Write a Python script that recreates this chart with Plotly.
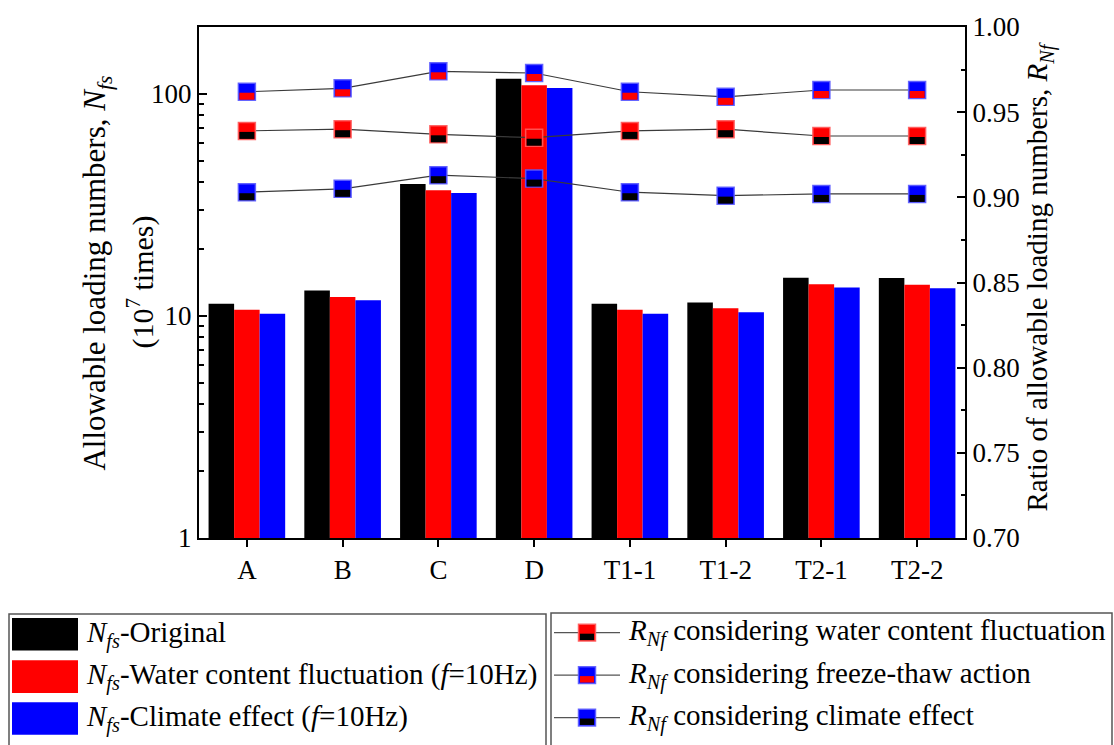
import math
import plotly.graph_objects as go

# ---- data -------------------------------------------------------------
categories = ["A", "B", "C", "D", "T1-1", "T1-2", "T2-1", "T2-2"]

# allowable loading numbers N_fs (10^7 times)
nfs_original = [11.34, 13.01, 39.3, 116.9, 11.34, 11.5, 14.86, 14.82]
nfs_water = [10.67, 12.18, 36.8, 109.3, 10.67, 10.82, 13.87, 13.83]
nfs_climate = [10.24, 11.78, 35.8, 106.3, 10.24, 10.38, 13.42, 13.34]

# ratio of allowable loading numbers R_Nf
r_water = [0.939, 0.940, 0.937, 0.935, 0.939, 0.940, 0.936, 0.936]
r_freeze = [0.962, 0.964, 0.974, 0.973, 0.962, 0.959, 0.963, 0.963]
r_climate = [0.903, 0.905, 0.913, 0.911, 0.903, 0.901, 0.902, 0.902]

bar_names = [
    "<i>N</i><sub><i>fs</i></sub>-Original",
    "<i>N</i><sub><i>fs</i></sub>-Water content fluctuation (<i>f</i>=10Hz)",
    "<i>N</i><sub><i>fs</i></sub>-Climate effect (<i>f</i>=10Hz)",
]
ratio_names = [
    "<i>R</i><sub><i>Nf</i></sub> considering water content fluctuation",
    "<i>R</i><sub><i>Nf</i></sub> considering freeze-thaw action",
    "<i>R</i><sub><i>Nf</i></sub> considering climate effect",
]

# ---- style ------------------------------------------------------------
FONT = "'Liberation Serif', 'Times New Roman', Times, serif"
BLACK, RED, BLUE = "#000000", "#FF0000", "#0000FF"
EDGE = {RED: "rgba(255,90,90,0.9)", BLUE: "rgba(90,90,255,0.9)"}
W, H = 1114, 745
ML, MR, MT, MB = 199, 149, 20, 207
PW, PH = W - ML - MR, H - MT - MB


def px(xp):
    return (xp - ML) / PW


def py(yp):
    return (H - MB - yp) / PH


xs = list(range(len(categories)))

fig = go.Figure()

for vals, col, name in zip([nfs_original, nfs_water, nfs_climate],
                           [BLACK, RED, BLUE], bar_names):
    fig.add_trace(go.Bar(x=xs, y=vals, name=name, marker_color=col,
                         marker_line_width=0, showlegend=False))

# ratio series: (values, top colour, bottom colour)
ratio_series = [
    (r_water, RED, BLACK),
    (r_freeze, BLUE, RED),
    (r_climate, BLUE, BLACK),
]

shapes = []
for (vals, top, bottom), name in zip(ratio_series, ratio_names):
    fig.add_trace(go.Scatter(
        x=xs, y=vals, yaxis="y2", mode="lines+markers", name=name,
        line=dict(color="#3a3a3a", width=1.2),
        marker=dict(symbol="square", size=17, color=top,
                    line=dict(color=EDGE[top], width=1.5)),
        showlegend=False,
    ))
    # lower half of each two-tone square marker
    for xv, yv in zip(xs, vals):
        shapes.append(dict(
            type="rect", xref="x", yref="y2",
            xsizemode="pixel", ysizemode="pixel",
            xanchor=xv, yanchor=yv,
            x0=-7.5, x1=7.5, y0=-1, y1=-8,
            fillcolor=bottom, line=dict(width=0), layer="above",
        ))

# ---- legend boxes ------------------------------------------------------
BOX = dict(color="#555555", width=1.5)
shapes.append(dict(type="rect", xref="paper", yref="paper",
                   x0=px(9), x1=px(546), y0=py(615), y1=py(760),
                   line=BOX, fillcolor="rgba(0,0,0,0)"))
shapes.append(dict(type="rect", xref="paper", yref="paper",
                   x0=px(551), x1=px(1112), y0=py(614), y1=py(760),
                   line=BOX, fillcolor="rgba(0,0,0,0)"))

LEGFONT = dict(family=FONT, size=29, color="black")
annotations = []
row_y = [635.5, 678.5, 721]
for yc, col, name in zip(row_y, [BLACK, RED, BLUE], bar_names):
    shapes.append(dict(type="rect", xref="paper", yref="paper",
                       x0=px(12), x1=px(78), y0=py(yc - 16.5), y1=py(yc + 16.5),
                       fillcolor=col, line=dict(width=0)))
    annotations.append(dict(x=px(84), y=py(yc), xref="paper", yref="paper",
                            text=name, showarrow=False, xanchor="left",
                            yanchor="middle", font=LEGFONT))

row_y2 = [634, 677, 720]
for yc, (vals, top, bottom), name in zip(row_y2, ratio_series, ratio_names):
    shapes.append(dict(type="line", xref="paper", yref="paper",
                       x0=px(554), x1=px(620), y0=py(yc), y1=py(yc),
                       line=dict(color="#555555", width=1.2)))
    shapes.append(dict(type="rect", xref="paper", yref="paper",
                       x0=px(578.5), x1=px(595.5), y0=py(yc - 8.5), y1=py(yc + 8.5),
                       fillcolor=top, line=dict(color=EDGE[top], width=1.5)))
    shapes.append(dict(type="rect", xref="paper", yref="paper",
                       x0=px(580), x1=px(594), y0=py(yc + 1), y1=py(yc + 7.5),
                       fillcolor=bottom, line=dict(width=0)))
    annotations.append(dict(x=px(626), y=py(yc), xref="paper", yref="paper",
                            text=name, showarrow=False, xanchor="left",
                            yanchor="middle", font=LEGFONT))

# ---- axis titles ---------------------------------------------------------
annotations += [
    dict(x=px(97), y=py(270), xref="paper", yref="paper", textangle=-90,
         text="Allowable loading numbers, <i>N</i><sub><i>fs</i></sub>",
         showarrow=False, xanchor="center", yanchor="middle",
         font=dict(family=FONT, size=31, color="black")),
    dict(x=px(141), y=py(279), xref="paper", yref="paper", textangle=-90,
         text="(10<sup>7</sup> times)",
         showarrow=False, xanchor="center", yanchor="middle",
         font=dict(family=FONT, size=30, color="black")),
    dict(x=px(1040), y=py(274), xref="paper", yref="paper", textangle=-90,
         text="Ratio of allowable loading numbers, <i>R</i><sub><i>Nf</i></sub>",
         showarrow=False, xanchor="center", yanchor="middle",
         font=dict(family=FONT, size=29, color="black")),
]

TICKFONT = dict(family=FONT, size=27, color="black")
minor_log = [m * d for d in (1, 10, 100) for m in range(2, 10) if m * d <= 200]

fig.update_layout(
    width=W, height=H,
    margin=dict(l=ML, r=MR, t=MT, b=MB),
    paper_bgcolor="white", plot_bgcolor="white",
    font=dict(family=FONT, color="black"),
    barmode="group", bargap=0.2, bargroupgap=0,
    showlegend=False,
    xaxis=dict(
        range=[-0.5, len(categories) - 0.5],
        tickvals=xs, ticktext=categories, tickfont=TICKFONT,
        ticks="outside", ticklen=7, tickwidth=2, tickcolor="black",
        showline=True, linewidth=2, linecolor="black", mirror=True,
        showgrid=False, zeroline=False,
    ),
    yaxis=dict(
        type="log", range=[0, math.log10(200)],
        tickvals=[1, 10, 100], ticktext=["1", "10", "100"], tickfont=TICKFONT,
        ticks="inside", ticklen=8, tickwidth=2, tickcolor="black",
        minor=dict(tickvals=minor_log, ticks="inside", ticklen=4.5,
                   tickwidth=1.5, tickcolor="black", showgrid=False),
        showline=True, linewidth=2, linecolor="black",
        showgrid=False, zeroline=False,
    ),
    yaxis2=dict(
        overlaying="y", side="right", range=[0.7, 1.0],
        tick0=0.7, dtick=0.05, tickformat=".2f", tickfont=TICKFONT,
        ticks="inside", ticklen=8, tickwidth=2, tickcolor="black",
        minor=dict(dtick=0.025, ticks="inside", ticklen=4.5,
                   tickwidth=1.5, tickcolor="black", showgrid=False),
        showline=True, linewidth=2, linecolor="black",
        showgrid=False, zeroline=False,
    ),
    shapes=shapes,
    annotations=annotations,
)

fig.write_html("out.html")
